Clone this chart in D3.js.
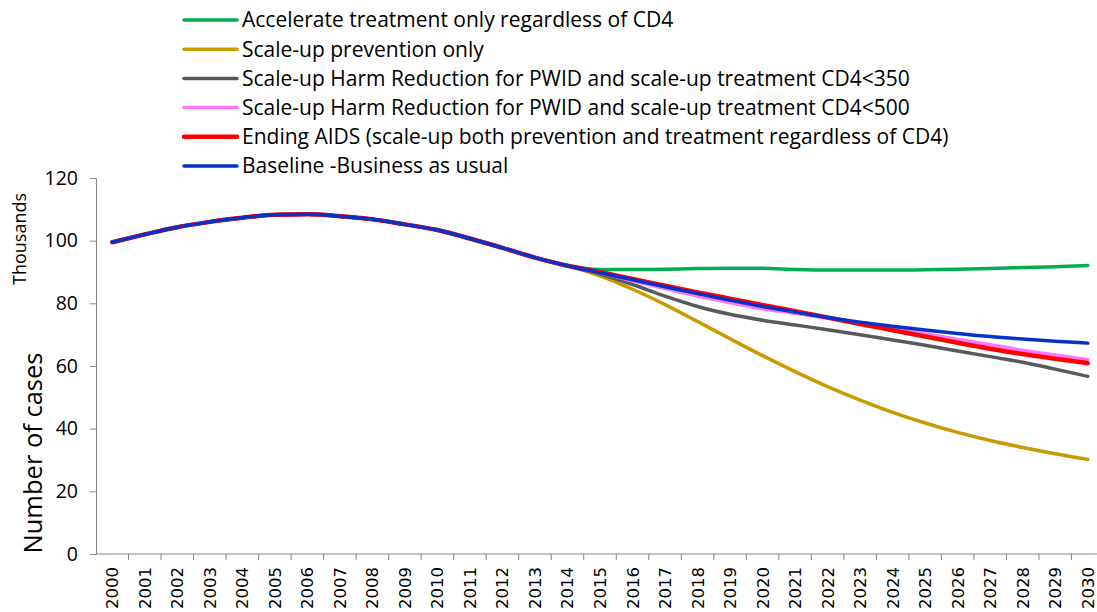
<!DOCTYPE html>
<html>
<head>
<meta charset="utf-8">
<script src="https://cdn.jsdelivr.net/npm/d3@7"></script>
<style>
	body { margin: 0; background: #fff; }
	svg { display: block; }
</style>
</head>
<body>
<script>
// Years on the category axis
var years = d3.range(2000, 2031).map(String);

// Shared past values 2000-2014 (thousands of cases)
var pastValues = [99.5, 102.0, 104.3, 106.0, 107.3, 108.3, 108.4, 107.8, 106.8, 105.2, 103.4, 100.7, 97.7, 94.6, 92.0];

// Projections 2015-2030
var accelerate = [90.8, 90.8, 90.9, 91.1, 91.2, 91.2, 90.8, 90.6, 90.6, 90.6, 90.7, 90.9, 91.1, 91.4, 91.7, 92.1];
var prevention = [88.8, 84.5, 79.6, 74.2, 68.7, 63.3, 58.2, 53.4, 49.1, 45.2, 41.8, 38.8, 36.2, 34.0, 32.0, 30.2];
var harm350 = [89.3, 86.0, 82.3, 79.0, 76.5, 74.6, 73.1, 71.6, 70.0, 68.3, 66.6, 64.8, 63.0, 61.2, 59.0, 56.7];
var harm500 = [89.8, 87.2, 84.7, 82.3, 80.2, 78.3, 76.8, 75.3, 73.6, 72.0, 70.3, 68.5, 66.8, 65.0, 63.5, 62.0];
var endingAids = [90.0, 87.8, 85.6, 83.5, 81.5, 79.5, 77.5, 75.5, 73.4, 71.4, 69.4, 67.4, 65.5, 63.8, 62.3, 60.9];
var baseline = [89.8, 87.5, 85.3, 83.1, 81.0, 79.0, 77.2, 75.5, 74.0, 72.7, 71.5, 70.4, 69.4, 68.6, 67.9, 67.3];

var seriesNames = [
	"Accelerate treatment only regardless of CD4",
	"Scale-up prevention only",
	"Scale-up Harm Reduction for PWID and scale-up treatment CD4<350",
	"Scale-up Harm Reduction for PWID and scale-up treatment CD4<500",
	"Ending AIDS (scale-up both prevention and treatment regardless of CD4)",
	"Baseline -Business as usual"
];
var seriesColors = ["#00b050", "#c99a00", "#595959", "#ff77ff", "#ff0000", "#0433c8"];
var seriesWidths = [3.5, 3.5, 3.5, 3.5, 4.5, 3.5];
var yTicks = [0, 20, 40, 60, 80, 100, 120];

var series = [accelerate, prevention, harm350, harm500, endingAids, baseline].map(function(p, i) {
	return {
		name: seriesNames[i],
		color: seriesColors[i],
		width: seriesWidths[i],
		values: pastValues.concat(p)
	};
});

var width = 1097, height = 612;
var plot = { left: 96, right: 1104, top: 178, bottom: 554 };
var textFont = "'Open Sans', sans-serif";

var svg = d3.select("body").append("svg")
	.attr("width", width)
	.attr("height", height);

var x = d3.scaleBand()
	.domain(years)
	.range([plot.left, plot.right]);

var y = d3.scaleLinear()
	.domain([0, 120])
	.range([plot.bottom, plot.top]);

var axisColor = "#868686";

// Y axis
var yAxis = svg.append("g")
	.attr("transform", "translate(" + plot.left + ",0)")
	.call(d3.axisLeft(y).tickValues(yTicks).tickSize(6).tickPadding(12));
yAxis.select(".domain").attr("stroke", axisColor);
yAxis.selectAll(".tick line").attr("stroke", axisColor);
yAxis.selectAll("text")
	.attr("font-family", textFont)
	.attr("font-size", 19.5)
	.attr("fill", "#000");

// X axis: ticks sit between categories
var xAxis = svg.append("g")
	.attr("transform", "translate(0," + plot.bottom + ")");
xAxis.append("line")
	.attr("x1", plot.left).attr("x2", plot.right)
	.attr("stroke", axisColor);
xAxis.selectAll("line.tick")
	.data(years)
	.enter().append("line")
		.attr("class", "tick")
		.attr("x1", function(d) { return x(d) + x.bandwidth(); })
		.attr("x2", function(d) { return x(d) + x.bandwidth(); })
		.attr("y1", 0).attr("y2", 6)
		.attr("stroke", axisColor);
xAxis.selectAll("text")
	.data(years)
	.enter().append("text")
		.text(function(d) { return d; })
		.attr("transform", function(d) {
			return "translate(" + (x(d) + x.bandwidth() / 2 + 6) + ",13) rotate(-90)";
		})
		.attr("text-anchor", "end")
		.attr("font-family", "'DejaVu Sans', sans-serif")
		.attr("font-size", 16.5)
		.attr("fill", "#000");

// Axis titles
svg.append("text")
	.text("Thousands")
	.attr("transform", "translate(26,239) rotate(-90)")
	.attr("text-anchor", "middle")
	.attr("font-family", textFont)
	.attr("font-size", 18)
	.attr("fill", "#000");

svg.append("text")
	.text("Number of cases")
	.attr("transform", "translate(42,453) rotate(-90)")
	.attr("text-anchor", "middle")
	.attr("font-family", textFont)
	.attr("font-size", 25.5)
	.attr("fill", "#000");

// Lines
var line = d3.line()
	.x(function(d, i) { return x(years[i]) + x.bandwidth() / 2; })
	.y(function(d) { return y(d); })
	.curve(d3.curveMonotoneX);

svg.append("g")
	.selectAll("path")
	.data(series)
	.enter().append("path")
		.attr("d", function(d) { return line(d.values); })
		.attr("fill", "none")
		.attr("stroke", function(d) { return d.color; })
		.attr("stroke-width", function(d) { return d.width; })
		.attr("stroke-linecap", "round")
		.attr("stroke-linejoin", "round");

// Legend
var legend = svg.append("g")
	.selectAll("g")
	.data(series)
	.enter().append("g")
		.attr("transform", function(d, i) { return "translate(184," + (20 + i * 29.2) + ")"; });

legend.append("line")
	.attr("x1", 0).attr("x2", 53)
	.attr("stroke", function(d) { return d.color; })
	.attr("stroke-width", function(d) { return d.width; })
	.attr("stroke-linecap", "round");

legend.append("text")
	.text(function(d) { return d.name; })
	.attr("x", 58)
	.attr("dy", "0.35em")
	.attr("font-family", textFont)
	.attr("font-size", 21)
	.attr("fill", "#000");
</script>
</body>
</html>
